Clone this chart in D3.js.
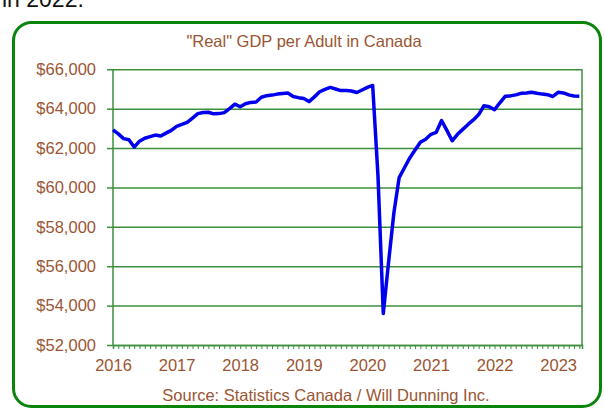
<!DOCTYPE html>
<html>
<head>
<meta charset="utf-8">
<script src="https://cdn.jsdelivr.net/npm/d3@7"></script>
<style>
  body { margin: 0; background: #fff; }
  svg { display: block; font-family: Arial, "Liberation Sans", sans-serif; }
</style>
</head>
<body>
<div id="chart"></div>
<script>
// monthly values, Jan 2016 .. May 2023
const gdpValues = [
  62920, 62720, 62480, 62420, 62050, 62350, 62500, 62580, 62660, 62610, 62760, 62900,
  63100, 63200, 63300, 63520, 63750, 63810, 63820, 63740, 63750, 63800, 64000, 64230,
  64100, 64250, 64320, 64340, 64580, 64660, 64690, 64740, 64770, 64800, 64620, 64560,
  64520, 64360, 64600, 64860, 64980, 65080, 65000, 64920, 64920, 64900, 64820, 64950,
  65080, 65180, 60600, 53600, 56200, 58700, 60500, 61000, 61500, 61900, 62300, 62450,
  62700, 62800, 63400, 62900, 62370, 62700, 62950, 63200, 63430, 63700, 64150, 64100,
  63950, 64300, 64630, 64650, 64700, 64780, 64800, 64830, 64780, 64740, 64710, 64620,
  64830, 64800, 64700, 64640, 64630
];
const yearLabels = ["2016", "2017", "2018", "2019", "2020", "2021", "2022", "2023"];
const yTicks = [52000, 54000, 56000, 58000, 60000, 62000, 64000, 66000];

const textColor = "#9b5533";
const gridColor = "#3d8f3d";
const fontSize = "16.5px";

const svg = d3.select("#chart").append("svg")
  .attr("width", 604)
  .attr("height", 410);

// caption text cut off at top of the screenshot
svg.append("text")
  .attr("x", 2)
  .attr("y", 7)
  .style("font-size", "23px")
  .style("fill", "#111")
  .text("in 2022.");

// rounded green frame
svg.append("rect")
  .attr("x", 13.5).attr("y", 22.5)
  .attr("width", 587).attr("height", 384)
  .attr("rx", 18).attr("ry", 18)
  .style("fill", "#fff")
  .style("stroke", "#0a840a")
  .style("stroke-width", 3);

const x = d3.scaleLinear().domain([0, 88.5]).range([113, 582]);
const y = d3.scaleLinear().domain([52000, 66000]).range([345, 69.3]);

// gridlines
svg.append("g")
  .attr("transform", "translate(113,0)")
  .call(d3.axisLeft(y).tickValues(yTicks).tickSize(-(582 - 113)).tickFormat(""))
  .call(g => g.select(".domain").remove())
  .selectAll("line")
  .style("stroke", gridColor)
  .style("stroke-width", 1.5);

// y axis labels and tick marks
const yAxis = svg.append("g")
  .attr("transform", "translate(113,0)")
  .call(d3.axisLeft(y).tickValues(yTicks).tickSize(6).tickPadding(11)
    .tickFormat(d => "$" + d3.format(",")(d)));
yAxis.select(".domain").remove();
yAxis.selectAll("line").style("stroke", gridColor).style("stroke-width", 1.5);
yAxis.selectAll("text")
  .style("font-size", fontSize)
  .style("fill", textColor)
  .style("font-family", "Arial, 'Liberation Sans', sans-serif");

// plot frame sides
svg.append("line")
  .attr("x1", x(0)).attr("x2", x(0)).attr("y1", y(66000)).attr("y2", y(52000))
  .style("stroke", gridColor).style("stroke-width", 1.5);
svg.append("line")
  .attr("x1", x(88.5)).attr("x2", x(88.5)).attr("y1", y(66000)).attr("y2", y(52000))
  .style("stroke", gridColor).style("stroke-width", 1.5);

// monthly minor ticks
const minor = svg.append("g")
  .attr("transform", "translate(0,345)")
  .call(d3.axisBottom(x).tickValues(d3.range(0, 89)).tickSize(4).tickFormat(""));
minor.select(".domain").style("stroke", gridColor).style("stroke-width", 1.5);
minor.selectAll("line").style("stroke", gridColor).style("stroke-width", 1);

// year labels
const xAxis = svg.append("g")
  .attr("transform", "translate(0,345)")
  .call(d3.axisBottom(x).tickValues(yearLabels.map((d, i) => i * 12)).tickSize(0).tickPadding(14)
    .tickFormat((d, i) => yearLabels[i]));
xAxis.select(".domain").remove();
xAxis.selectAll("text")
  .style("font-size", fontSize)
  .style("fill", textColor)
  .style("font-family", "Arial, 'Liberation Sans', sans-serif");

// the series
const line = d3.line()
  .x((d, i) => x(i))
  .y(d => y(d));

svg.append("path")
  .datum(gdpValues)
  .attr("d", line)
  .style("fill", "none")
  .style("stroke", "#0000ee")
  .style("stroke-width", 3.5)
  .style("stroke-linejoin", "round");

// title
svg.append("text")
  .attr("x", 304)
  .attr("y", 47)
  .style("text-anchor", "middle")
  .style("font-size", fontSize)
  .style("fill", textColor)
  .text('"Real" GDP per Adult in Canada');

// source
svg.append("text")
  .attr("x", 326)
  .attr("y", 401)
  .style("text-anchor", "middle")
  .style("font-size", fontSize)
  .style("fill", textColor)
  .text("Source: Statistics Canada / Will Dunning Inc.");
</script>
</body>
</html>
